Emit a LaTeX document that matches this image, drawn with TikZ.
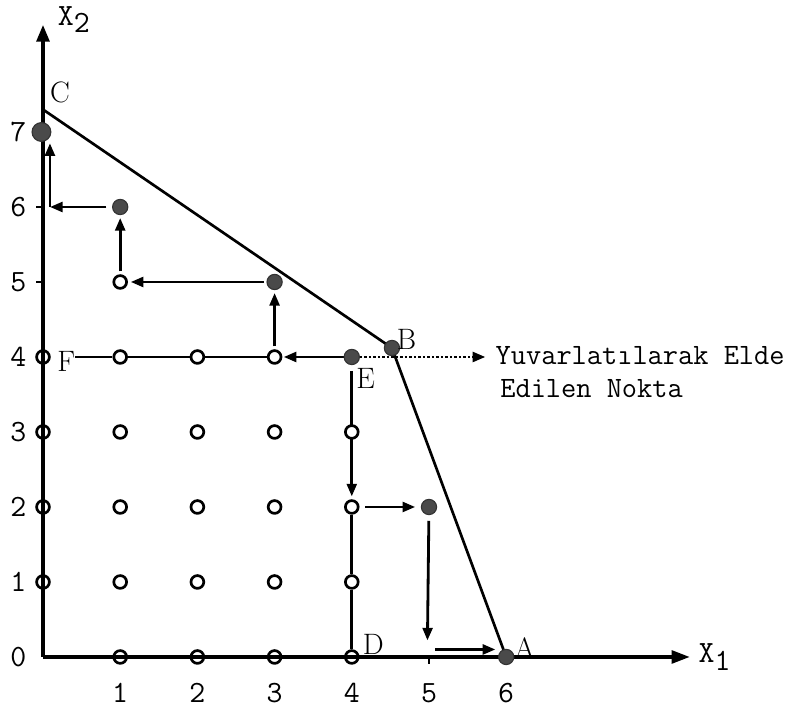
\documentclass[tikz,border=0pt]{standalone}
\usepackage{tikz}
\usetikzlibrary{arrows.meta,backgrounds}
\definecolor{dotgray}{HTML}{4A4A4A}

\begin{document}
\begin{tikzpicture}[x=1.93cm,y=1.875cm,
  hollowpt/.style={circle,draw=black,line width=1.9pt,fill=white,minimum size=0.32cm,inner sep=0pt},
  axispt/.style={hollowpt,fill=none},
  fullpt/.style={circle,draw=black!80,line width=0.8pt,fill=dotgray,minimum size=0.38cm,inner sep=0pt},
  flow/.style={line width=2pt,-{Triangle[length=9pt,width=7pt]}},
  numlbl/.style={font=\ttfamily\fontsize{22}{24}\selectfont},
  ptlbl/.style={font=\rmfamily\fontsize{21}{23}\selectfont}]
  \useasboundingbox (-0.557,-0.707) rectangle (9.819,8.76);

  % Lattice points
  \foreach \i in {1,2,3}
    \foreach \j in {1,2,3,4}
      \node[hollowpt] (p\i\j) at (\i,\j) {};
  \foreach \j in {1,2,3}
    \node[hollowpt] (p4\j) at (4,\j) {};
  \foreach \i in {1,2,3,4}
    \node[axispt] (p\i0) at (\i,0) {};
  \foreach \j in {1,2,3,4}
    \node[axispt] (p0\j) at (0,\j) {};
  \node[hollowpt] (p15) at (1,5) {};

  % Points visited by the search
  \node[fullpt] (p44) at (4,4) {};
  \node[fullpt] (p35) at (3,5) {};
  \node[fullpt] (p16) at (1,6) {};
  \node[fullpt,minimum size=0.47cm] (p07) at (-0.02,7) {};
  \node[fullpt] (p52) at (5,2) {};
  \node[fullpt] (ptA) at (6,0) {};
  \node[fullpt] (ptB) at (4.52,4.12) {};

  \coordinate (O) at (0,0);
  \coordinate (xend) at (8.38,0);
  \coordinate (yend) at (0,8.43);
  \coordinate (ptC) at (0,7.3);
  \coordinate (fstart) at (0.42,4);
  \coordinate (k6) at (0.09,6);
  \coordinate (k7) at (0.09,6.85);
  \coordinate (k50) at (4.98,0.22);
  \coordinate (k51) at (5.08,0.1);
  \coordinate (k52) at (5.86,0.1);
  \coordinate (k8) at (5.73,4);

  \begin{scope}[on background layer]
    % Axes
    \draw[line width=2.6pt,-{Triangle[length=13pt,width=9pt]}] (O) -- (xend);
    \draw[line width=2.6pt,-{Triangle[length=12pt,width=9pt]}] (O) -- (yend);
    \draw[line width=1.8pt] (0,5) -- (-0.09,5);
    \draw[line width=1.8pt] (0,6) -- (-0.09,6);
    \draw[line width=1.8pt] (5,0) -- (5,-0.1);

    % Constraint boundary
    \draw[line width=1.9pt] (ptC) -- (ptB.center) -- (ptA.center);

    % Plain connections
    \draw[line width=2pt] (fstart) -- (p14) -- (p24) -- (p34);
    \draw[line width=2pt] (p42) -- (p41) -- (p40);

    % Search path
    \draw[flow,shorten >=1pt] (p44) -- (p34);
    \draw[flow,shorten >=2pt,shorten <=2pt] (p34) -- (p35);
    \draw[flow,shorten >=2pt,shorten <=2pt] (p35) -- (p15);
    \draw[flow,shorten >=2pt,shorten <=2pt] (p15) -- (p16);
    \draw[flow,shorten <=4pt] (p16) -- (k6);
    \draw[flow] (k6) -- (k7);
    \draw[flow,shorten >=2pt,shorten <=4pt] (p44) -- (p42);
    \draw[flow,shorten >=4pt,shorten <=4pt] (p42) -- (p52);
    \draw[flow,shorten <=4pt] (p52) -- (k50);
    \draw[flow] (k51) -- (k52);

    % Rounded point pointer
    \draw[line width=1.9pt,dash pattern=on 1.6pt off 1.6pt,-{Triangle[length=9pt,width=7pt]}] (p44) -- (k8);
  \end{scope}

  % Labels
  \node[numlbl] (lx2) at (0.4,8.5) {X\raisebox{-0.55ex}{2}};
  \node[numlbl,anchor=west] (lx1) at (8.43,0) {X\raisebox{-0.55ex}{1}};
  \foreach \v in {1,...,6}
    \node[numlbl] (tx\v) at (\v,-0.48) {\v};
  \foreach \v in {0,...,7}
    \node[numlbl] (ty\v) at (-0.32,\v) {\v};
  \node[ptlbl] (lC) at (0.22,7.53) {C};
  \node[ptlbl] (lB) at (4.71,4.24) {B};
  \node[ptlbl] (lE) at (4.18,3.72) {E};
  \node[ptlbl] (lF) at (0.3,3.94) {F};
  \node[ptlbl] (lD) at (4.28,0.17) {D};
  \node[ptlbl] (lA) at (6.24,0.12) {A};
  \node[numlbl,anchor=west,font=\ttfamily\fontsize{21}{23}\selectfont] (note1) at (5.8,4.02) {Yuvarlatılarak Elde};
  \node[numlbl,anchor=west,font=\ttfamily\fontsize{21}{23}\selectfont] (note2) at (5.86,3.58) {Edilen Nokta};
\end{tikzpicture}
\end{document}
